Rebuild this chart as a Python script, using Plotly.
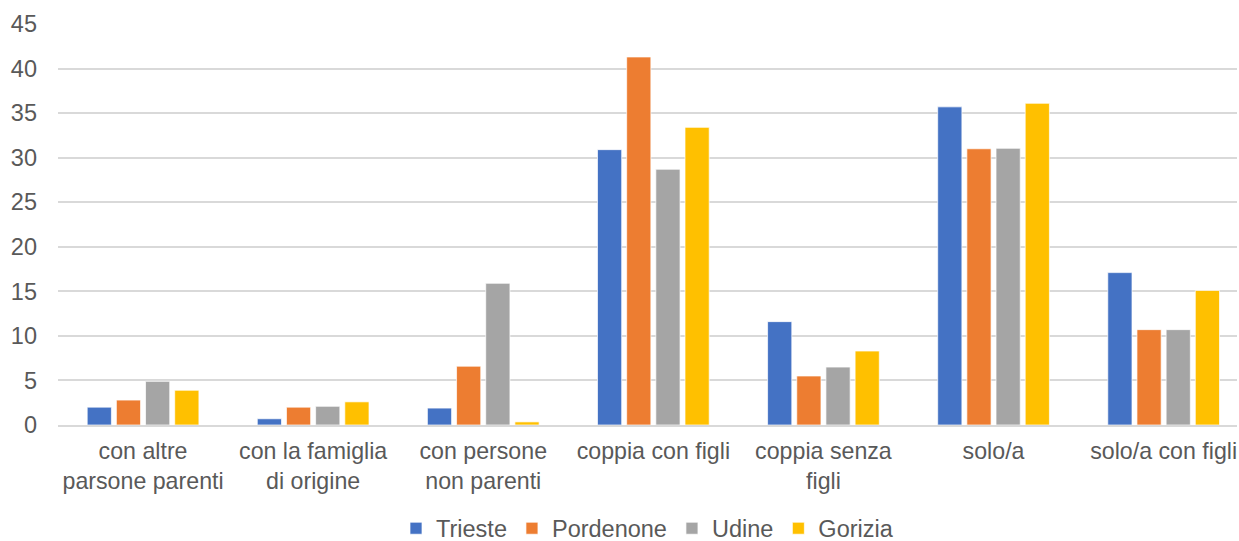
import plotly.graph_objects as go

categories = ["con altre<br>parsone parenti", "con la famiglia<br>di origine", "con persone<br>non parenti",
              "coppia con figli", "coppia senza<br>figli", "solo/a", "solo/a con figli"]
trieste = [2.0, 0.7, 1.9, 30.9, 11.6, 35.7, 17.1]
pordenone = [2.8, 2.0, 6.6, 41.3, 5.5, 31.0, 10.7]
udine = [4.9, 2.1, 15.9, 28.7, 6.5, 31.05, 10.7]
gorizia = [3.9, 2.6, 0.35, 33.4, 8.3, 36.1, 15.1]

series = [("Trieste", trieste, "#4472C4"), ("Pordenone", pordenone, "#ED7D31"),
          ("Udine", udine, "#A5A5A5"), ("Gorizia", gorizia, "#FFC000")]

fig = go.Figure()
for name, vals, color in series:
    fig.add_trace(go.Bar(x=categories, y=vals, name=name, marker_color=color,
                         marker_line_color="white", marker_line_width=0.7))

font_family = "Liberation Sans, Arial, sans-serif"
fs = 23.5
W, H = 1239, 541
L, R, T, B = 58, 2, 24, 116
cat_px = 170.1
plot_w = W - L - R
fig.update_layout(
    width=W, height=H,
    margin=dict(l=L, r=R, t=T, b=B, autoexpand=False),
    plot_bgcolor="white", paper_bgcolor="white",
    barmode="group", bargap=0.314, bargroupgap=0.17,
    font=dict(family=font_family, size=fs, color="#595959"),
    showlegend=True,
    legend=dict(orientation="h", x=0.5, xanchor="center", y=-0.258, yanchor="middle",
                font=dict(size=fs, color="#595959"), itemwidth=30, traceorder="normal"),
    yaxis=dict(range=[0, 45], dtick=5, showgrid=True, gridcolor="#D9D9D9", gridwidth=1.5,
               zeroline=False, showline=False, ticks="", ticklabelstandoff=20,
               tickfont=dict(size=fs, color="#595959")),
    xaxis=dict(range=[-0.5, -0.5 + plot_w / cat_px], showline=True, linecolor="#D9D9D9",
               linewidth=1.5, ticks="", ticklabelstandoff=4, ticklabeloverflow="allow",
               tickfont=dict(size=23.2, color="#595959")),
)
fig.write_html("out.html", config={"displayModeBar": False},
               post_script="document.body.style.margin='0';document.body.style.overflow='hidden';")
